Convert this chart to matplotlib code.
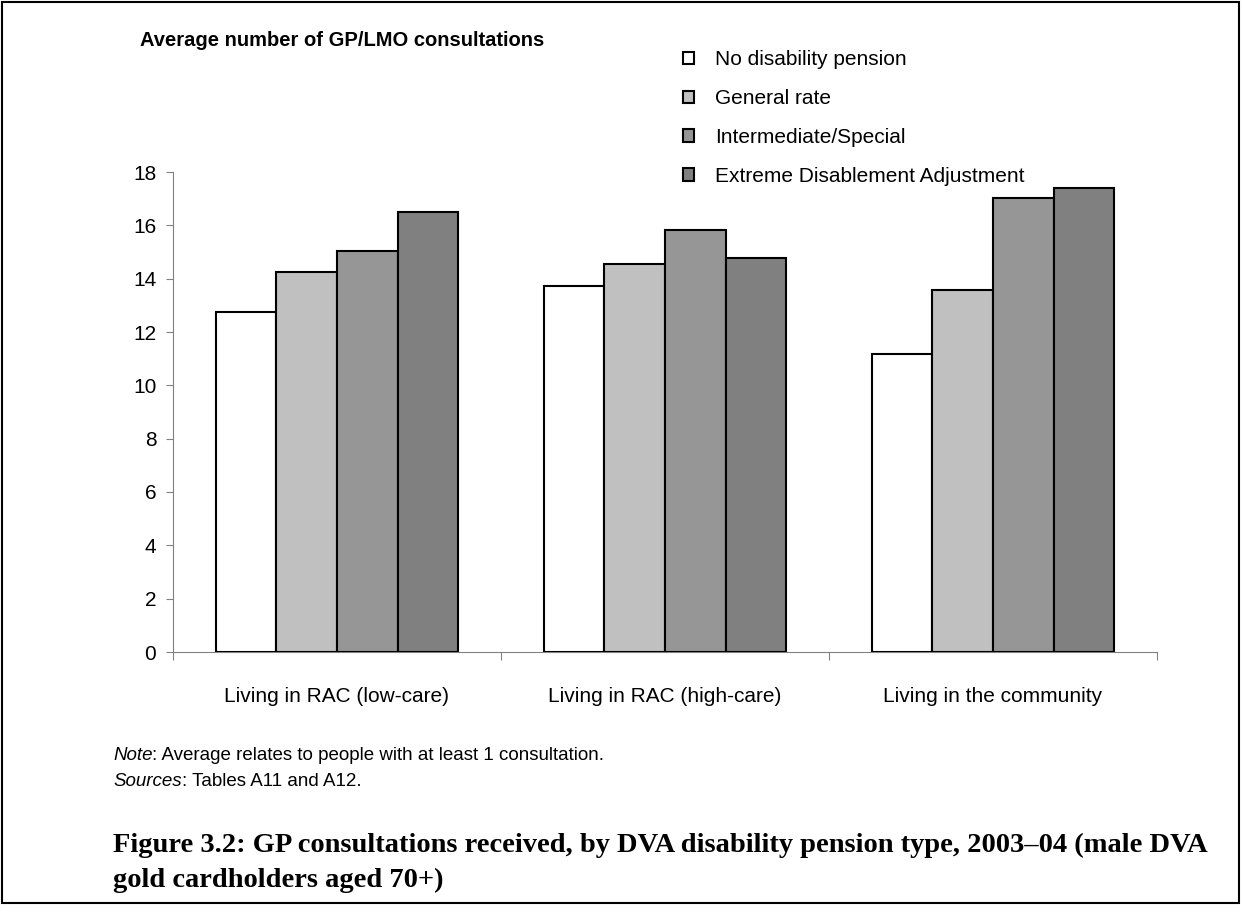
import numpy as np
import matplotlib.pyplot as plt
from matplotlib.patches import Patch, Rectangle

# Data
categories = ["Living in RAC (low-care)", "Living in RAC (high-care)", "Living in the community"]
series_names = ["No disability pension", "General rate", "Intermediate/Special",
                "Extreme Disablement Adjustment"]
no_pension = [12.75, 13.71, 11.17]
general_rate = [14.25, 14.55, 13.57]
intermediate = [15.02, 15.82, 17.02]
extreme = [16.51, 14.77, 17.39]

values = [no_pension, general_rate, intermediate, extreme]
colors = ["#FFFFFF", "#C0C0C0", "#969696", "#808080"]

plt.rcParams["font.family"] = ["Liberation Sans", "DejaVu Sans"]

W, H = 1242, 917
fig = plt.figure(figsize=(W / 100, H / 100), dpi=100)
ax = fig.add_axes([173 / W, 1 - 652 / H, 984 / W, 480 / H])

x = np.arange(len(categories)) + 0.5
bar_w = 0.185
for i, (vals, col) in enumerate(zip(values, colors)):
    ax.bar(x + (i - 1.5) * bar_w, vals, width=bar_w, color=col,
           edgecolor="black", linewidth=1.5, label=series_names[i], zorder=3)

ax.set_xlim(0, 3)
ax.set_ylim(0, 18)
ax.set_yticks(np.arange(0, 19, 2))
ax.set_xticks([0, 1, 2, 3])
ax.set_xticklabels([])
ax.tick_params(axis="y", direction="out", length=5, color="#808080",
               labelsize=15, pad=7)
ax.tick_params(axis="x", direction="out", length=6, color="#808080")
for side in ["top", "right"]:
    ax.spines[side].set_visible(False)
ax.spines["left"].set_color("#808080")
ax.spines["bottom"].set_color("#808080")

# category labels
for xi, cat in zip(x, categories):
    fig.text(ax.transData.transform((xi, 0))[0] / W, 1 - 697 / H, cat,
             ha="center", va="center", fontsize=15)

# axis title
fig.text(140 / W, 1 - 41 / H, "Average number of GP/LMO consultations",
         fontsize=14.5, fontweight="bold", va="center", ha="left")

# legend
handles = [Patch(facecolor=c, edgecolor="black", linewidth=1.5) for c in colors]
fig.legend(handles, series_names, loc="upper left",
           bbox_to_anchor=(673 / W, 1 - 40 / H), frameon=False,
           fontsize=15, handlelength=0.5, handleheight=0.55,
           handletextpad=1.0, labelspacing=0.95, borderpad=0)

# notes: italic lead word followed by plain text
note = fig.text(113 / W, 1 - 756 / H, "Note", fontsize=13.5, style="italic",
                va="center")
src = fig.text(113 / W, 1 - 781 / H, "Sources", fontsize=13.5, style="italic",
               va="center")

fig.canvas.draw()
r = fig.canvas.get_renderer()
for t, rest, yy in [(note, ": Average relates to people with at least 1 consultation.", 756),
                    (src, ": Tables A11 and A12.", 781)]:
    bb = t.get_window_extent(r)
    fig.text(bb.x1 / W, 1 - yy / H, rest, fontsize=13.5, va="center")

# caption
fig.text(113 / W, 1 - 845 / H,
         "Figure 3.2: GP consultations received, by DVA disability pension type, 2003\u201304 (male DVA",
         fontsize=20.5, fontweight="bold", family="Liberation Serif", va="center")
fig.text(113 / W, 1 - 880 / H, "gold cardholders aged 70+)",
         fontsize=20.5, fontweight="bold", family="Liberation Serif", va="center")

# border
fig.patches.append(Rectangle((2 / W, 1 - 903 / H), 1237 / W, 901 / H,
                             transform=fig.transFigure, fill=False,
                             edgecolor="black", linewidth=1.5))

fig.savefig("out.png", dpi=100)
